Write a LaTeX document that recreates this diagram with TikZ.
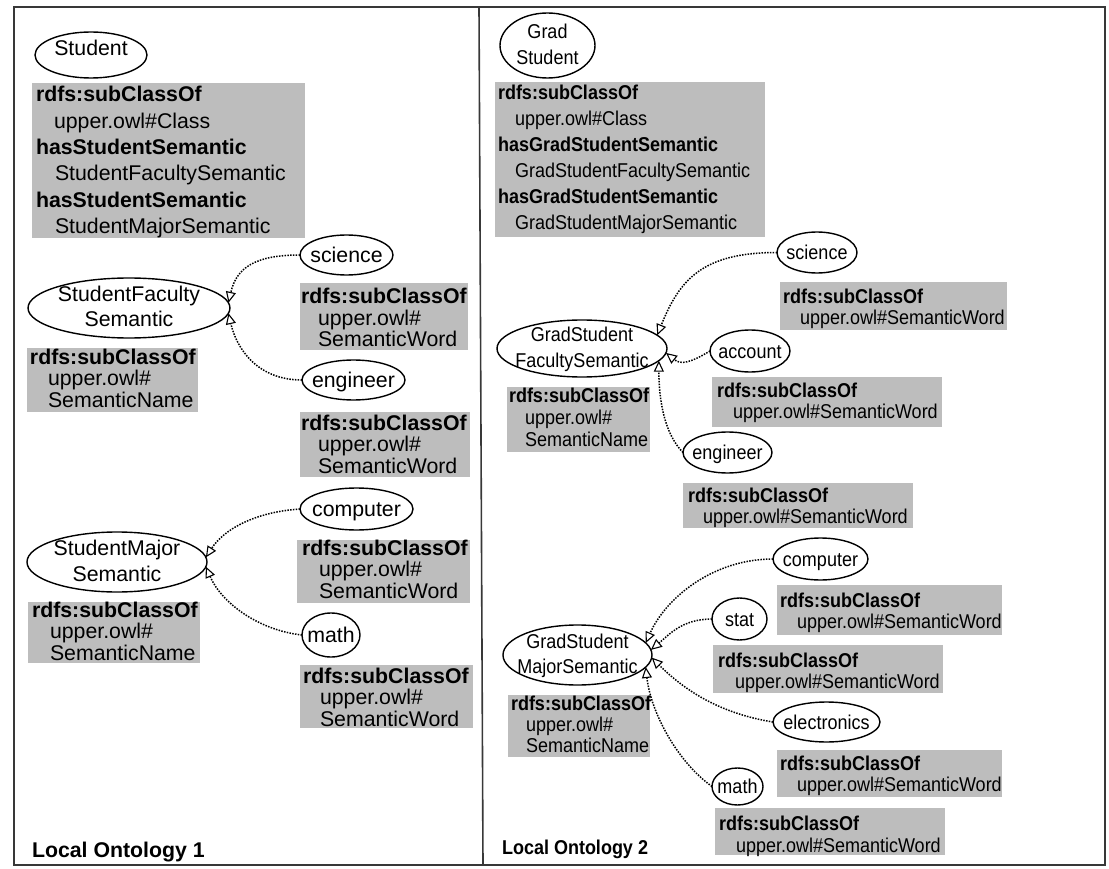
\documentclass[tikz,border=0pt]{standalone}
\usepackage{fontspec}
\setmainfont{Liberation Sans}
\newfontfamily\narrowsans{Liberation Sans}[FakeStretch=0.9]
\usetikzlibrary{arrows.meta,shapes.geometric}

\definecolor{boxgray}{gray}{0.74}
\definecolor{framegray}{gray}{0.22}

% font sizes of the two panels
\newcommand\lfont{\fontsize{21.3pt}{25pt}\selectfont}
\newcommand\rfont{\narrowsans\fontsize{20pt}{22pt}\selectfont}
% a stack of lines with a fixed baseline pitch; its baseline is the first line
\newcommand\stackat[2]{\vtop{\baselineskip=#1\lineskiplimit=-99pt\relax#2}}
\newcommand\hdrow[1]{\hbox{\bfseries #1}}
\newcommand\inrow[2]{\hbox{\hskip#1\relax#2}}
\newcommand\ctrrow[1]{\hbox to 0pt{\hss#1\hss}}
% text set in an oval without changing the oval's size
\newcommand\ovaltext[2]{\smash{\makebox[0pt]{\raisebox{#1}{#2}}}}

\tikzset{
  oval/.style={ellipse, draw, line width=1.4pt, inner sep=0pt, outer sep=0pt},
  greybox/.style={rectangle, fill=boxgray, draw=none, inner sep=0pt, outer sep=0pt, anchor=north west},
  boxtext/.style={anchor=base west, inner sep=0pt, outer sep=0pt},
  isa/.style={line width=1.5pt, dash pattern=on 1.5pt off 1.3pt,
    -{Triangle[open,length=11pt,width=10pt,line width=1.1pt]}},
}

\begin{document}
\begin{tikzpicture}[x=1pt,y=-1pt]
\useasboundingbox (0,0) rectangle (1109,869);

% frame and divider
\draw[framegray, line width=1.6pt] (14,7) rectangle (1105,865);
\draw[framegray, line width=1.6pt] (479,7) -- (483,865);

% ---------------- Local Ontology 1 ----------------
\begin{scope}[font=\lfont]
\node[oval, minimum width=112pt, minimum height=46pt] (student) at (91,55) {\ovaltext{-1pt}{Student}};
\node[greybox, minimum width=273pt, minimum height=155pt] (b-student) at (32,83) {};
\node[boxtext] (t-student) at (36,102) {\stackat{26.3pt}{%
  \hdrow{rdfs:subClassOf}\inrow{18pt}{upper.owl\#Class}%
  \hdrow{hasStudentSemantic}\inrow{19pt}{StudentFacultySemantic}%
  \hdrow{hasStudentSemantic}\inrow{19pt}{StudentMajorSemantic}}};

\node[oval, minimum width=202pt, minimum height=60pt] (sf1) at (129,308)
  {\ovaltext{6pt}{\stackat{25pt}{\ctrrow{StudentFaculty}\ctrrow{Semantic}}}};
\node[greybox, minimum width=171pt, minimum height=64pt] (b-sf1) at (27,348) {};
\node[boxtext] (t-sf1) at (30,364) {\stackat{21.5pt}{\hdrow{rdfs:subClassOf}\inrow{18pt}{upper.owl\#}\inrow{18pt}{SemanticName}}};

\node[oval, minimum width=93pt, minimum height=40pt] (sci1) at (346.5,255) {\ovaltext{-0.36em}{science}};
\node[greybox, minimum width=168pt, minimum height=67pt] (b-sci1) at (300,283) {};
\node[boxtext] (t-sci1) at (301,304) {\stackat{21.5pt}{\hdrow{rdfs:subClassOf}\inrow{17pt}{upper.owl\#}\inrow{17pt}{SemanticWord}}};

\node[oval, minimum width=103pt, minimum height=40pt] (eng1) at (353.5,380) {\ovaltext{-0.36em}{engineer}};
\node[greybox, minimum width=170pt, minimum height=65pt] (b-eng1) at (300,412) {};
\node[boxtext] (t-eng1) at (301,430) {\stackat{21.5pt}{\hdrow{rdfs:subClassOf}\inrow{17pt}{upper.owl\#}\inrow{17pt}{SemanticWord}}};

\node[oval, minimum width=113pt, minimum height=42pt] (comp1) at (356.5,509) {\ovaltext{-0.36em}{computer}};
\node[greybox, minimum width=173pt, minimum height=63pt] (b-comp1) at (297,540) {};
\node[boxtext] (t-comp1) at (302,555) {\stackat{21.5pt}{\hdrow{rdfs:subClassOf}\inrow{17pt}{upper.owl\#}\inrow{17pt}{SemanticWord}}};

\node[oval, minimum width=180pt, minimum height=60pt] (sm1) at (117,562)
  {\ovaltext{7pt}{\stackat{26pt}{\ctrrow{StudentMajor}\ctrrow{Semantic}}}};
\node[greybox, minimum width=172pt, minimum height=61pt] (b-sm1) at (28,602) {};
\node[boxtext] (t-sm1) at (32,617) {\stackat{21.5pt}{\hdrow{rdfs:subClassOf}\inrow{18pt}{upper.owl\#}\inrow{18pt}{SemanticName}}};

\node[oval, minimum width=58pt, minimum height=44pt] (math1) at (331,635) {\ovaltext{-0.36em}{math}};
\node[greybox, minimum width=173pt, minimum height=63pt] (b-math1) at (300,665) {};
\node[boxtext] (t-math1) at (303,683) {\stackat{21.5pt}{\hdrow{rdfs:subClassOf}\inrow{17pt}{upper.owl\#}\inrow{17pt}{SemanticWord}}};

\node[boxtext, font=\lfont\bfseries] (title1) at (32,857) {Local Ontology 1};
\end{scope}

\draw[isa] (sci1.west) .. controls +(-45,0) and +(8,-35) .. (sf1.3);
\draw[isa] (eng1.west) .. controls +(-45,0) and +(8,35) .. (sf1.-3);
\draw[isa] (comp1.west) .. controls +(-45,3) and +(18,-28) .. (sm1.3);
\draw[isa] (math1.west) .. controls +(-45,-5) and +(15,35) .. (sm1.-3);

% ---------------- Local Ontology 2 ----------------
\begin{scope}[font=\rfont]
\node[oval, minimum width=95pt, minimum height=65pt] (grad) at (547.5,45.5)
  {\ovaltext{6.5pt}{\stackat{26pt}{\ctrrow{Grad}\ctrrow{Student}}}};
\node[greybox, minimum width=270pt, minimum height=155pt] (b-grad) at (495,82) {};
\node[boxtext] (t-grad) at (498,100) {\stackat{25.9pt}{%
  \hdrow{rdfs:subClassOf}\inrow{17pt}{upper.owl\#Class}%
  \hdrow{hasGradStudentSemantic}\inrow{17pt}{GradStudentFacultySemantic}%
  \hdrow{hasGradStudentSemantic}\inrow{17pt}{GradStudentMajorSemantic}}};

\node[oval, minimum width=80pt, minimum height=41pt] (sci2) at (817,252.5) {\ovaltext{-0.35em}{science}};
\node[greybox, minimum width=227pt, minimum height=48pt] (b-sci2) at (780,282) {};
\node[boxtext] (t-sci2) at (783,303) {\stackat{21.5pt}{\hdrow{rdfs:subClassOf}\inrow{17pt}{upper.owl\#SemanticWord}}};

\node[oval, minimum width=170pt, minimum height=57pt] (gsf) at (582,348.5)
  {\ovaltext{6.5pt}{\stackat{26pt}{\ctrrow{GradStudent}\ctrrow{FacultySemantic}}}};
\node[greybox, minimum width=143pt, minimum height=65pt] (b-gsf) at (507,387) {};
\node[boxtext] (t-gsf) at (509,402) {\stackat{22pt}{\hdrow{rdfs:subClassOf}\inrow{16pt}{upper.owl\#}\inrow{16pt}{SemanticName}}};

\node[oval, minimum width=80pt, minimum height=42pt] (acc) at (750,351) {\ovaltext{-0.35em}{account}};
\node[greybox, minimum width=230pt, minimum height=50pt] (b-acc) at (712,377) {};
\node[boxtext] (t-acc) at (717,397) {\stackat{21.5pt}{\hdrow{rdfs:subClassOf}\inrow{16pt}{upper.owl\#SemanticWord}}};

\node[oval, minimum width=89pt, minimum height=41pt] (eng2) at (727.5,452.5) {\ovaltext{-0.35em}{engineer}};
\node[greybox, minimum width=230pt, minimum height=45pt] (b-eng2) at (683,483) {};
\node[boxtext] (t-eng2) at (688,502) {\stackat{21.5pt}{\hdrow{rdfs:subClassOf}\inrow{15pt}{upper.owl\#SemanticWord}}};

\node[oval, minimum width=95pt, minimum height=42pt] (comp2) at (820.5,559) {\ovaltext{-0.35em}{computer}};
\node[oval, minimum width=55pt, minimum height=42pt] (stat) at (739.5,619) {\ovaltext{-0.35em}{stat}};
\node[greybox, minimum width=225pt, minimum height=50pt] (b-comp2) at (777,585) {};
\node[boxtext] (t-comp2) at (780,607) {\stackat{21.5pt}{\hdrow{rdfs:subClassOf}\inrow{17pt}{upper.owl\#SemanticWord}}};
\node[greybox, minimum width=230pt, minimum height=48pt] (b-stat) at (713,645) {};
\node[boxtext] (t-stat) at (718,667) {\stackat{21.5pt}{\hdrow{rdfs:subClassOf}\inrow{17pt}{upper.owl\#SemanticWord}}};

\node[oval, minimum width=149pt, minimum height=60pt] (gsm) at (577.5,655)
  {\ovaltext{7pt}{\stackat{25pt}{\ctrrow{GradStudent}\ctrrow{MajorSemantic}}}};
\node[greybox, minimum width=142pt, minimum height=62pt] (b-gsm) at (508,695) {};
\node[boxtext] (t-gsm) at (511,710) {\stackat{21pt}{\hdrow{rdfs:subClassOf}\inrow{15pt}{upper.owl\#}\inrow{15pt}{SemanticName}}};

\node[oval, minimum width=107pt, minimum height=40pt] (elec) at (826.5,722) {\ovaltext{-0.35em}{electronics}};
\node[greybox, minimum width=225pt, minimum height=47pt] (b-elec) at (777,750) {};
\node[boxtext] (t-elec) at (780,770) {\stackat{21pt}{\hdrow{rdfs:subClassOf}\inrow{17pt}{upper.owl\#SemanticWord}}};

\node[oval, minimum width=51pt, minimum height=37pt] (math2) at (737.5,786.5) {\ovaltext{-0.35em}{math}};
\node[greybox, minimum width=230pt, minimum height=47pt] (b-math2) at (715,808) {};
\node[boxtext] (t-math2) at (719,830) {\stackat{22pt}{\hdrow{rdfs:subClassOf}\inrow{17pt}{upper.owl\#SemanticWord}}};

\node[boxtext, font=\rfont\bfseries] (title2) at (502,854) {Local Ontology 2};
\end{scope}

\draw[isa] (sci2.west) .. controls +(-75,0) and +(22,-55) .. (gsf.10);
\draw[isa] (acc.west) .. controls +(-20,12) and +(15,12) .. (gsf.-3);
\draw[isa] (eng2.west) .. controls +(-20,-20) and +(0,35) .. (gsf.-9);
\draw[isa] (comp2.west) .. controls +(-60,0) and +(20,-45) .. (gsm.10);
\draw[isa] (stat.west) .. controls +(-30,0) and +(18,-15) .. (gsm.4);
\draw[isa] (elec.west) .. controls +(-50,-8) and +(35,35) .. (gsm.-2);
\draw[isa] (math2.west) .. controls +(-35,-25) and +(5,45) .. (gsm.-10);
\end{tikzpicture}
\end{document}
